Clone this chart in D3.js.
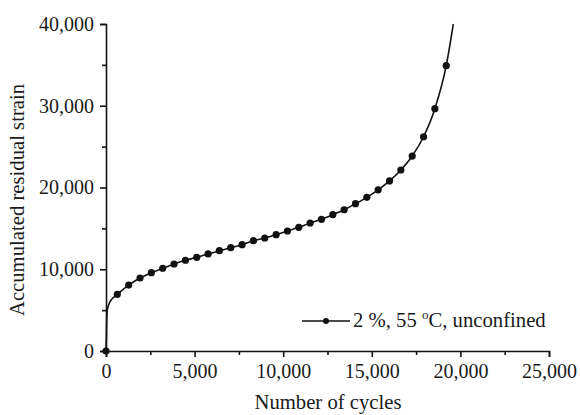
<!DOCTYPE html>
<html>
<head>
<meta charset="utf-8">
<script src="https://cdn.jsdelivr.net/npm/d3@7"></script>
<style>
  html, body { margin: 0; padding: 0; background: #fff; }
  svg { display: block; }
  text { font-family: "Liberation Serif", "Times New Roman", serif; fill: #1a1a1a; }
</style>
</head>
<body>
<svg id="chart" width="580" height="415"></svg>
<script>
// ---- data ----
const markerCycles = [0, 640, 1280, 1920, 2560, 3200, 3840, 4480, 5120, 5760, 6400,
  7040, 7680, 8320, 8960, 9600, 10240, 10880, 11520, 12160, 12800,
  13440, 14080, 14720, 15360, 16000, 16640, 17280, 17920, 18560, 19200];
const markerStrain = [0, 6930, 8070, 8930, 9580, 10120, 10640, 11100, 11460, 11870, 12270,
  12640, 13010, 13490, 13820, 14230, 14680, 15130, 15660, 16110, 16670,
  17280, 18020, 18800, 19710, 20800, 22140, 23850, 26210, 29640, 34900];
// extra points on the curve (line only, no marker)
const curveExtraCycles = [17, 40, 73, 226, 19600];
const curveExtraStrain = [1350, 3790, 5020, 6030, 40000];

const xTicks = [0, 5000, 10000, 15000, 20000, 25000];
const yTicks = [0, 10000, 20000, 30000, 40000];
const xMinor = [2500, 7500, 12500, 17500, 22500];
const yMinor = [5000, 15000, 25000, 35000];
const xTitle = "Number of cycles";
const yTitle = "Accumulated residual strain";
const legendLabel = "2 %, 55 ";

// ---- drawing ----
const svg = d3.select("#chart");
const x = d3.scaleLinear().domain([0, 25000]).range([106, 549]);
const y = d3.scaleLinear().domain([0, 40000]).range([351, 24]);
const fmt = d3.format(",");

const ink = "#111";

// axes
const xAxis = svg.append("g").attr("transform", `translate(0,${y(0)})`)
  .call(d3.axisBottom(x).tickValues(xTicks).tickFormat(fmt).tickSize(6).tickPadding(7));
const xAxisMinor = svg.append("g").attr("transform", `translate(0,${y(0)})`)
  .call(d3.axisBottom(x).tickValues(xMinor).tickFormat("").tickSize(4));
const yAxis = svg.append("g").attr("transform", `translate(${x(0)},0)`)
  .call(d3.axisLeft(y).tickValues(yTicks).tickFormat(fmt).tickSize(6).tickPadding(6));
const yAxisMinor = svg.append("g").attr("transform", `translate(${x(0)},0)`)
  .call(d3.axisLeft(y).tickValues(yMinor).tickFormat("").tickSize(4));

[xAxis, xAxisMinor, yAxis, yAxisMinor].forEach(g => {
  g.select(".domain").attr("stroke", ink).attr("stroke-width", 1.6);
  g.selectAll(".tick line").attr("stroke", ink).attr("stroke-width", 1.6);
  g.selectAll(".tick text").attr("font-size", 20).attr("fill", "#1a1a1a")
    .attr("font-family", '"Liberation Serif", serif');
});
xAxisMinor.select(".domain").remove();
yAxisMinor.select(".domain").remove();

// curve
const curvePts = markerCycles.map((c, i) => [c, markerStrain[i]])
  .concat(curveExtraCycles.map((c, i) => [c, curveExtraStrain[i]]))
  .sort((a, b) => a[0] - b[0]);
const line = d3.line().x(d => x(d[0])).y(d => y(d[1])).curve(d3.curveMonotoneX);
svg.append("path").datum(curvePts).attr("d", line)
  .attr("fill", "none").attr("stroke", ink).attr("stroke-width", 1.6);

svg.append("g").selectAll("circle")
  .data(markerCycles.map((c, i) => [c, markerStrain[i]]))
  .join("circle")
  .attr("cx", d => x(d[0])).attr("cy", d => y(d[1])).attr("r", 3.6).attr("fill", ink);

// titles
svg.append("text").attr("x", 328).attr("y", 409).attr("text-anchor", "middle")
  .attr("font-size", 20.7).text(xTitle);
svg.append("text").attr("transform", "translate(24,200) rotate(-90)")
  .attr("text-anchor", "middle").attr("font-size", 20.7).text(yTitle);

// legend
const ly = 321;
svg.append("line").attr("x1", 302).attr("x2", 350).attr("y1", ly).attr("y2", ly)
  .attr("stroke", ink).attr("stroke-width", 1.6);
svg.append("circle").attr("cx", 326).attr("cy", ly).attr("r", 3).attr("fill", ink);
const lt = svg.append("text").attr("x", 353).attr("y", ly + 6).attr("font-size", 20.7);
lt.append("tspan").text(legendLabel);
lt.append("tspan").attr("font-size", 13).attr("dy", -8).text("o");
lt.append("tspan").attr("dy", 8).text("C, unconfined");
</script>
</body>
</html>
